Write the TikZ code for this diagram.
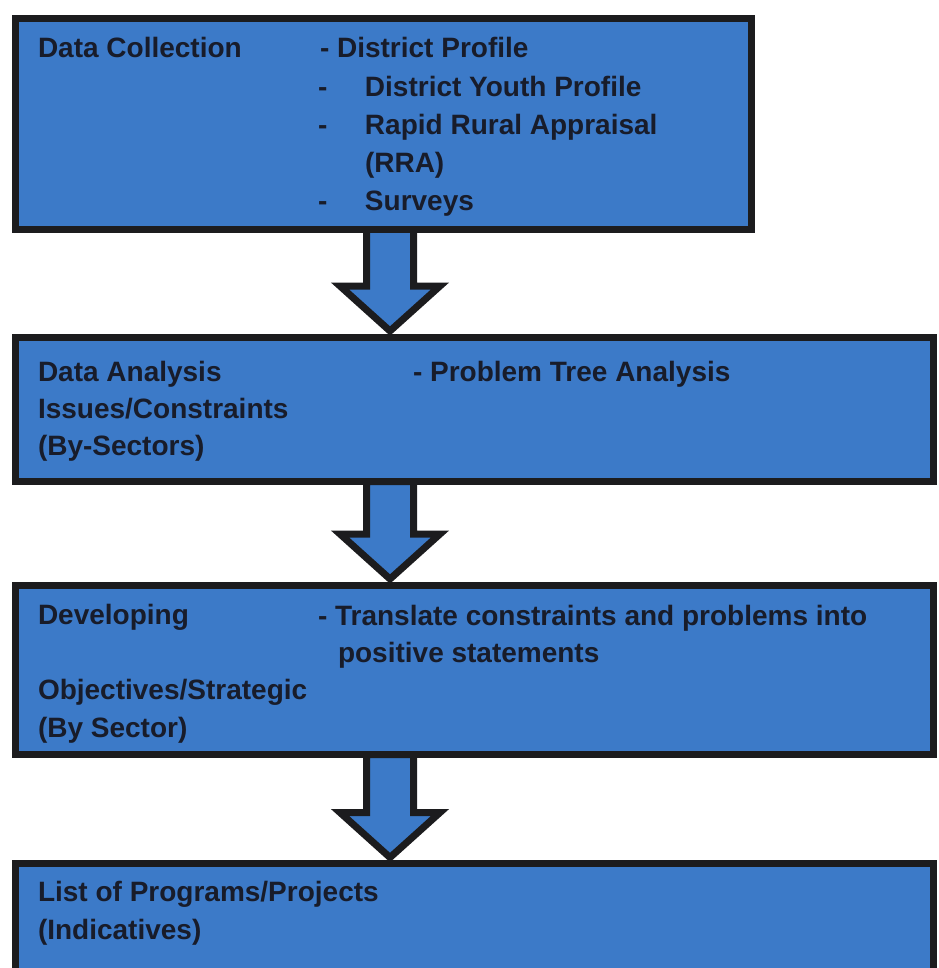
\documentclass[tikz,border=0pt]{standalone}
\usepackage{fontspec}
\setmainfont{Liberation Sans}
\usetikzlibrary{calc}
\definecolor{boxblue}{RGB}{60,122,200}
\definecolor{boxline}{RGB}{28,28,30}
\definecolor{txtcol}{RGB}{24,28,42}
\pgfdeclarelayer{paper}
\pgfdeclarelayer{arrowlayer}
\pgfsetlayers{paper,arrowlayer,main}
\newcommand\dashcol{\makebox[47pt][l]{-}}
\newcommand\blockarrow[2]{%
  \path[blockarr] let \p1=(#1.south -| ax), \p2=(#2.north -| ax) in
    (\x1-23.5pt,\y1) -- (\x1-23.5pt,\y2+51pt) -- (\x1-50pt,\y2+51pt)
    -- (\x1,\y2+6pt) -- (\x1+50pt,\y2+51pt) -- (\x1+23.5pt,\y2+51pt)
    -- (\x1+23.5pt,\y1) -- cycle;}
\begin{document}
\begin{tikzpicture}[x=1pt,y=-1pt,
  box/.style={draw=boxline, fill=boxblue, line width=7pt, rectangle,
    inner sep=0pt, outer sep=0pt},
  lbl/.style={anchor=base west, inner sep=0pt, outer sep=0pt, text=txtcol,
    font=\fontsize{28}{38}\selectfont\bfseries},
  blockarr/.style={draw=boxline, fill=boxblue, line width=7pt, line join=miter}]
\useasboundingbox (0,0) rectangle (938,968);
\begin{pgfonlayer}{paper}
  \fill[white] (0,0) rectangle (938,968);
\end{pgfonlayer}
\clip (0,0) rectangle (938,968);

% boxes
\node[box, minimum width=735.5pt, minimum height=211pt] (b1) at (383.25,124) {};
\node[box, minimum width=918pt, minimum height=144.5pt] (b2) at (474.5,409.25) {};
\node[box, minimum width=918pt, minimum height=169.5pt] (b3) at (474.5,669.75) {};
\node[box, minimum width=918pt, minimum height=160pt] (b4) at (474.5,943.5) {};

\coordinate (ax) at (390,0);

% arrows
\begin{pgfonlayer}{arrowlayer}
  \blockarrow{b1}{b2}
  \blockarrow{b2}{b3}
  \blockarrow{b3}{b4}
\end{pgfonlayer}

% box 1 texts
\node[lbl] (t1a) at (38,58) {Data Collection};
\node[lbl] (t1b) at (320,58) {- District Profile};
\node[lbl] (t1c) at (318,97) {\dashcol District Youth Profile};
\node[lbl] (t1d) at (318,135) {\dashcol Rapid Rural Appraisal};
\node[lbl] (t1e) at (365,173) {(RRA)};
\node[lbl] (t1f) at (318,211) {\dashcol Surveys};

% box 2 texts
\node[lbl] (t2a) at (38,381) {Data Analysis};
\node[lbl] (t2b) at (38,418) {Issues/Constraints};
\node[lbl] (t2c) at (38,455) {(By-Sectors)};
\node[lbl] (t2d) at (413,381) {- Problem Tree Analysis};

% box 3 texts
\node[lbl] (t3a) at (38,624) {Developing};
\node[lbl] (t3b) at (318,625) {- Translate constraints and problems into};
\node[lbl] (t3c) at (338,662) {positive statements};
\node[lbl] (t3d) at (38,699) {Objectives/Strategic};
\node[lbl] (t3e) at (38,737) {(By Sector)};

% box 4 texts
\node[lbl] (t4a) at (38,901) {List of Programs/Projects};
\node[lbl] (t4b) at (38,939) {(Indicatives)};
\end{tikzpicture}
\end{document}
